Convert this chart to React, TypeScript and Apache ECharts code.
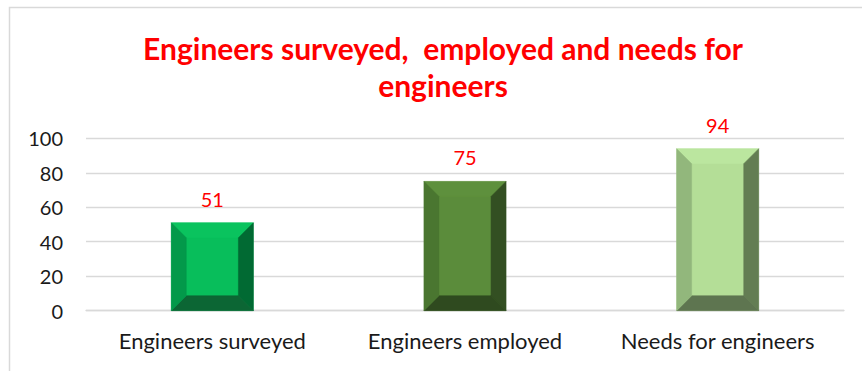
import React, { useEffect, useRef } from "react";
import * as echarts from "echarts";

const categories = ["Engineers surveyed", "Engineers employed", "Needs for engineers"];
const values = [51, 75, 94];
const yTicks = { min: 0, max: 100, interval: 20 };
const titleLines = ["Engineers surveyed,  employed and needs for", "engineers"];

// bevel colours per bar: face, top, left, right, bottom
const barColors = [
  { face: "#08BE5B", top: "#0AC35E", left: "#03994A", right: "#016A33", bottom: "#0C6634" },
  { face: "#5B8C3B", top: "#5E903D", left: "#4A7630", right: "#334F22", bottom: "#2F4A1F" },
  { face: "#B4DE97", top: "#BBE69F", left: "#92B77C", right: "#637D53", bottom: "#5E7550" },
];

const FONT = "Lato, 'Open Sans', sans-serif";

export default function App() {
  const ref = useRef<HTMLDivElement>(null);
  useEffect(() => {
    document.body.style.margin = "0";
    const chart = echarts.init(ref.current!, null, { renderer: "svg" });
    const bevel = 15;
    chart.setOption({
      animation: false,
      backgroundColor: "#ffffff",
      textStyle: { fontFamily: FONT },
      graphic: [
        {
          type: "rect",
          shape: { x: 9.5, y: 7.5, width: 900, height: 400 },
          style: { fill: "none", stroke: "#D9D9D9", lineWidth: 1.5 },
          silent: true,
        },
        ...titleLines.map((t, i) => ({
          type: "text",
          x: 443,
          y: 48 + i * 37,
          style: {
            text: t,
            align: "center",
            verticalAlign: "middle",
            fill: "#FF0000",
            font: `bold 30px ${FONT}`,
          },
        })),
      ],
      grid: { left: 86, right: 18, top: 138.3, bottom: 60.3 },
      xAxis: {
        type: "category",
        data: categories,
        axisLine: { show: true, lineStyle: { color: "#D9D9D9", width: 1.3 } },
        axisTick: { show: false },
        axisLabel: { color: "#1a1a1a", fontSize: 22, fontFamily: FONT, margin: 19 },
      },
      yAxis: {
        type: "value",
        min: yTicks.min,
        max: yTicks.max,
        interval: yTicks.interval,
        axisLine: { show: false },
        axisTick: { show: false },
        splitLine: { lineStyle: { color: "#D9D9D9", width: 1.3 } },
        axisLabel: { color: "#1a1a1a", fontSize: 20, fontFamily: FONT, margin: 23 },
      },
      series: [
        {
          type: "custom",
          data: values.map((v, i) => [i, v]),
          encode: { x: 0, y: 1 },
          renderItem: (params: any, api: any) => {
            const idx = api.value(0);
            const val = api.value(1);
            const top = api.coord([idx, val]);
            const base = api.coord([idx, 0]);
            const band = api.size([1, 0])[0];
            const w = band * 0.325;
            const x0 = top[0] - w / 2;
            const x1 = top[0] + w / 2;
            const y0 = top[1];
            const y1 = base[1];
            const b = bevel;
            const c = barColors[params.dataIndex % barColors.length];
            const poly = (pts: number[][], fill: string) => ({
              type: "polygon",
              shape: { points: pts },
              style: { fill, stroke: fill, lineWidth: 0.5 },
            });
            return {
              type: "group",
              children: [
                {
                  type: "rect",
                  shape: { x: x0, y: y0, width: x1 - x0, height: y1 - y0 },
                  style: { fill: c.face },
                },
                poly([[x0, y0], [x1, y0], [x1 - b, y0 + b], [x0 + b, y0 + b]], c.top),
                poly([[x1, y0], [x1, y1], [x1 - b, y1 - b], [x1 - b, y0 + b]], c.right),
                poly([[x0, y1], [x1, y1], [x1 - b, y1 - b], [x0 + b, y1 - b]], c.bottom),
                poly([[x0, y0], [x0, y1], [x0 + b, y1 - b], [x0 + b, y0 + b]], c.left),
                {
                  type: "text",
                  style: {
                    text: String(val),
                    x: top[0],
                    y: y0 - 24,
                    align: "center",
                    verticalAlign: "middle",
                    fill: "#FF0000",
                    font: `20px ${FONT}`,
                  },
                },
              ],
            };
          },
        },
      ],
    });
    return () => chart.dispose();
  }, []);
  return <div ref={ref} style={{ width: 862, height: 371 }} />;
}
